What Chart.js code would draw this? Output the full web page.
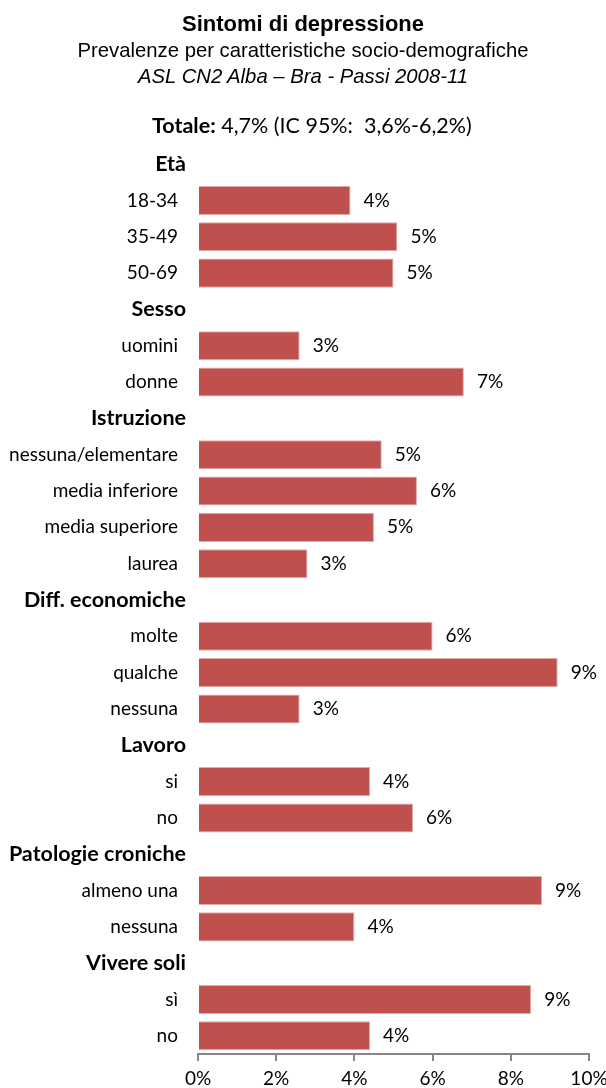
<!DOCTYPE html>
<html>
<head>
<meta charset="utf-8">
<script src="https://cdn.jsdelivr.net/npm/chart.js@4"></script>
<style>
  html, body { margin:0; padding:0; background:#fff; }
  #wrap { position:relative; width:606px; height:1088px; overflow:hidden; }
  #wrap canvas { position:absolute; left:0; top:0; }
  .hdr { position:absolute; left:0; width:606px; text-align:center; color:#000; white-space:nowrap; }
  #t1 { top:13px; font:bold 22px/22px "Liberation Sans", Arial, sans-serif; }
  #t2 { top:40px; font:20.3px/20px "Liberation Sans", Arial, sans-serif; }
  #t3 { top:66px; font:italic 20.3px/20px "Liberation Sans", Arial, sans-serif; }
  #tot { position:absolute; left:152px; top:115px; font:21.5px/21px Lato, sans-serif; color:#000; white-space:nowrap; }
  #tot b { font-weight:bold; }
</style>
</head>
<body>
<div id="wrap">
  <canvas id="c" width="606" height="1088"></canvas>
  <div class="hdr" id="t1">Sintomi di depressione</div>
  <div class="hdr" id="t2">Prevalenze per caratteristiche socio-demografiche</div>
  <div class="hdr" id="t3">ASL CN2 Alba – Bra - Passi 2008-11</div>
  <div id="tot"><b>Totale:</b> 4,7% (IC 95%:&nbsp; 3,6%-6,2%)</div>
</div>
<script>
// Categories (group headers included, they carry no bar)
const categories = ['Età','18-34','35-49','50-69',
  'Sesso','uomini','donne',
  'Istruzione','nessuna/elementare','media inferiore','media superiore','laurea',
  'Diff. economiche','molte','qualche','nessuna',
  'Lavoro','si','no',
  'Patologie croniche','almeno una','nessuna',
  'Vivere soli','sì','no'];
const isHeader = [true,false,false,false,
  true,false,false,
  true,false,false,false,false,
  true,false,false,false,
  true,false,false,
  true,false,false,
  true,false,false];
// Prevalence (%)
const values = [null,3.9,5.1,5.0,
  null,2.6,6.8,
  null,4.7,5.6,4.5,2.8,
  null,6.0,9.2,2.6,
  null,4.4,5.5,
  null,8.8,4.0,
  null,8.52,4.4];
// X axis ticks
const xTickValues = [0,2,4,6,8,10];
const xTickLabels = ['0%','2%','4%','6%','8%','10%'];

const headerPlugin = {
  id:'headers',
  afterDraw(chart){
    const ctx = chart.ctx, y = chart.scales.y;
    ctx.save();
    ctx.font = 'bold 21.5px Lato, sans-serif';
    ctx.fillStyle = '#000';
    ctx.textAlign = 'right';
    ctx.textBaseline = 'middle';
    categories.forEach((c,i)=>{
      if (isHeader[i]) ctx.fillText(c, 186, y.getPixelForValue(i));
    });
    ctx.restore();
  }
};
const valueLabels = {
  id:'valueLabels',
  afterDatasetsDraw(chart){
    const ctx = chart.ctx;
    const meta = chart.getDatasetMeta(0);
    ctx.save();
    ctx.font = '19px Lato, sans-serif';
    ctx.fillStyle = '#000';
    ctx.textAlign = 'left';
    ctx.textBaseline = 'middle';
    meta.data.forEach((bar,i)=>{
      const v = values[i];
      if (v === null || v === undefined) return;
      ctx.fillText(Math.round(v) + '%', bar.x + 13, bar.y);
    });
    ctx.restore();
  }
};

new Chart(document.getElementById('c'), {
  type:'bar',
  data:{
    labels: categories,
    datasets:[{
      data: values,
      backgroundColor:'#C0504D',
      borderColor:'#E3AAA8',
      borderWidth:1,
      barPercentage:0.8,
      categoryPercentage:1.0
    }]
  },
  options:{
    indexAxis:'y',
    responsive:false,
    animation:false,
    layout:{ padding:{ top:146, right:17, bottom:0, left:0 } },
    plugins:{ legend:{display:false}, tooltip:{enabled:false}, title:{display:false} },
    scales:{
      x:{
        min:0, max:10,
        afterBuildTicks(scale){ scale.ticks = xTickValues.map(v=>({value:v})); },
        afterFit(scale){ scale.height = 34; scale.paddingLeft = 0; scale.paddingRight = 0; },
        ticks:{
          callback:(v)=> xTickLabels[xTickValues.indexOf(v)],
          font:{ family:'Lato, sans-serif', size:19 },
          color:'#000',
          padding:6,
          maxRotation:0
        },
        grid:{ drawOnChartArea:false, drawTicks:true, tickLength:7, color:'#868686', lineWidth:2 },
        border:{ display:true, color:'#868686', width:2 }
      },
      y:{
        afterFit(scale){ scale.width = 198; },
        ticks:{
          autoSkip:false,
          callback:(v,i)=> isHeader[i] ? '' : categories[i],
          font:{ family:'Lato, sans-serif', size:19 },
          color:'#000',
          padding:12
        },
        grid:{ display:false },
        border:{ display:false }
      }
    }
  },
  plugins:[headerPlugin, valueLabels]
});
</script>
</body>
</html>
